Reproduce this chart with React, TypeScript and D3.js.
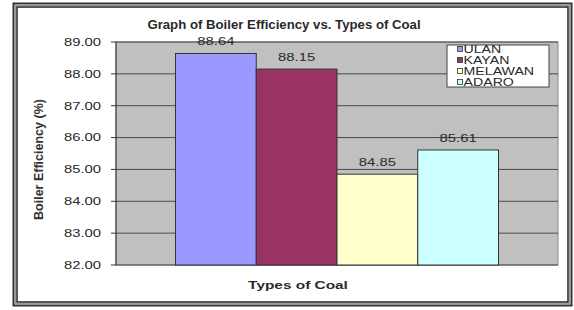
import React from "react";
import * as d3 from "d3";

const categories = ["ULAN", "KAYAN", "MELAWAN", "ADARO"];
const values = [88.64, 88.15, 84.85, 85.61];
const colors = ["#9999ff", "#993366", "#ffffcc", "#ccffff"];
const yTicks = [82, 83, 84, 85, 86, 87, 88, 89];

const W = 574, H = 310;
const plot = { left: 116, right: 558, top: 42, bottom: 265 };
const SX = 1.35;

function T({ x, y, anchor = "start", size = 11, bold = false, sx = SX, children }: any) {
  return (
    <g transform={`translate(${x},${y}) scale(${sx},1)`}>
      <text x={0} y={0} dy="0.35em" textAnchor={anchor} fontSize={size} fontWeight={bold ? "bold" : "normal"} fill="#2a2a2a">
        {children}
      </text>
    </g>
  );
}

export default function App() {
  const y = d3.scaleLinear().domain([82, 89]).range([plot.bottom, plot.top]);
  const pw = plot.right - plot.left;
  const x = d3.scaleBand().domain(categories).range([plot.left + 59.5, plot.right - 59.5]).padding(0);
  const font = "Arial, 'Liberation Sans', sans-serif";
  return (
    <svg width={W} height={H} style={{ position: "absolute", left: 0, top: 0 }} fontFamily={font}>
      <rect x={0} y={0} width={W} height={H} fill="#fff" />
      <rect x={13.5} y={3.5} width={558} height={302} fill="none" stroke="#333" strokeWidth={2} />
      <rect x={15.5} y={5.5} width={554} height={298} fill="none" stroke="#999" strokeWidth={1} />
      <rect x={17} y={7} width={551} height={295} fill="none" stroke="#222" strokeWidth={1.5} />
      <T x={284} y={25} anchor="middle" size={12} bold sx={1.1}>
        Graph of Boiler Efficiency vs. Types of Coal
      </T>
      <rect x={plot.left} y={plot.top} width={pw} height={plot.bottom - plot.top} fill="#c0c0c0" stroke="#888" strokeWidth={1} />
      {yTicks.map((t) => (
        <g key={t}>
          <line x1={plot.left} x2={plot.right} y1={y(t)} y2={y(t)} stroke="#4a4a4a" strokeWidth={1} />
          <line x1={plot.left - 5} x2={plot.left} y1={y(t)} y2={y(t)} stroke="#333" strokeWidth={1} />
          <T x={101} y={y(t)} anchor="end">
            {t.toFixed(2)}
          </T>
        </g>
      ))}
      <line x1={plot.left} x2={plot.left} y1={plot.top} y2={plot.bottom} stroke="#333" strokeWidth={1} />
      {categories.map((c, i) => (
        <g key={c}>
          <rect
            x={x(c)!}
            y={y(values[i])}
            width={x.bandwidth()}
            height={plot.bottom - y(values[i])}
            fill={colors[i]}
            stroke="#333"
            strokeWidth={1}
          />
          <T x={x(c)! + x.bandwidth() / 2} y={y(values[i]) - 12} anchor="middle">
            {values[i].toFixed(2)}
          </T>
        </g>
      ))}
      <g>
        <rect x={447} y={45} width={102} height={42} fill="#fff" stroke="#444" strokeWidth={1} />
        {categories.map((c, i) => (
          <g key={c}>
            <rect x={457.5} y={46.5 + i * 11} width={5} height={5} fill={colors[i]} stroke="#333" strokeWidth={0.8} />
            <T x={463.5} y={49 + i * 11} size={10.5}>
              {c}
            </T>
          </g>
        ))}
      </g>
      <text transform={`translate(39,${(plot.top + plot.bottom) / 2 + 6}) rotate(-90)`} dy="0.35em" textAnchor="middle" fontSize={12.5} fontWeight="bold" fill="#333">
        Boiler Efficiency (%)
      </text>
      <T x={298} y={285} anchor="middle" bold sx={1.4}>
        Types of Coal
      </T>
    </svg>
  );
}
